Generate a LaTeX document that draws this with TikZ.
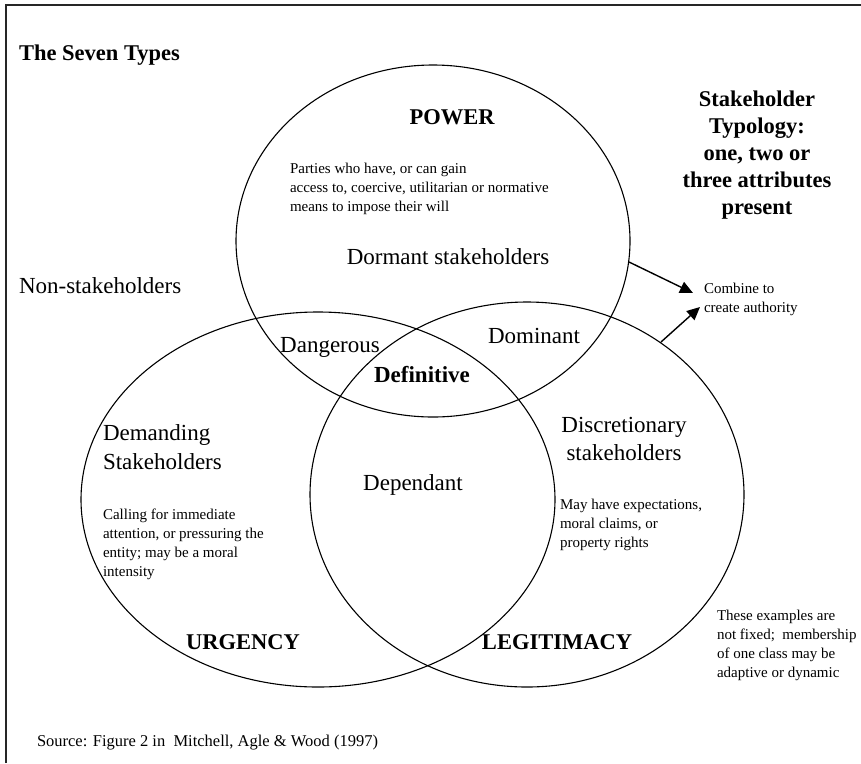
\documentclass[tikz,border=0pt]{standalone}
\usepackage{fontspec}
\setmainfont{Liberation Serif}
\usetikzlibrary{arrows.meta,shapes.geometric}
\begin{document}
\begin{tikzpicture}[x=1pt,y=-1pt,
  every node/.style={inner sep=0pt, outer sep=0pt},
  big/.style={font=\fontsize{23}{27}\selectfont},
  bigbold/.style={font=\fontsize{22.5}{27}\selectfont\bfseries},
  small/.style={font=\fontsize{15}{19}\selectfont},
  srcfont/.style={font=\fontsize{16.5}{20}\selectfont},
  venn/.style={draw, line width=1.1pt, ellipse, inner sep=0pt},
  arr/.style={line width=1.4pt, -{Triangle[length=13pt,width=12pt]}},
  framestyle/.style={line width=1.8pt, draw=black!85}
]
\useasboundingbox (0,0) rectangle (861,763);
\draw[framestyle] (6,763) -- (6,5) -- (861,5);

% circles
\node[venn, minimum width=394pt, minimum height=352pt] (power) at (433,241) {};
\node[venn, minimum width=474pt, minimum height=375pt] (urgency) at (318,499.5) {};
\node[venn, minimum width=434pt, minimum height=385pt] (legit) at (527,494.5) {};

% titles
\node[bigbold, anchor=base west] (title) at (19,60) {The Seven Types};
\node[bigbold, anchor=base] (powerlbl) at (452,124.5) {POWER};
\node[small, anchor=base west] (pw1) at (290,173) {Parties who have, or can gain};
\node[small, anchor=base west] (pw2) at (290,192) {access to, coercive, utilitarian or normative};
\node[small, anchor=base west] (pw3) at (290,211) {means to impose their will};
\node[big, anchor=base] (dormant) at (448,264.5) {Dormant stakeholders};

\node[bigbold, anchor=base] (ty1) at (757,106) {Stakeholder};
\node[bigbold, anchor=base] (ty2) at (757,133) {Typology:};
\node[bigbold, anchor=base] (ty3) at (757,160) {one, two or};
\node[bigbold, anchor=base] (ty4) at (757,187) {three attributes};
\node[bigbold, anchor=base] (ty5) at (757,214) {present};

\node[big, anchor=base west] (non) at (19,293.5) {Non-stakeholders};
\node[small, anchor=base west] (comb1) at (704,293) {Combine to};
\node[small, anchor=base west] (comb2) at (704,312) {create authority};

\node[big, anchor=base] (danger) at (330,352.5) {Dangerous};
\node[big, anchor=base] (domin) at (534,343.5) {Dominant};
\node[font=\fontsize{23}{27}\selectfont\bfseries, anchor=base] (defin) at (422,382.5) {Definitive};

\node[big, anchor=base west] (dem1) at (103,440.5) {Demanding};
\node[big, anchor=base west] (dem2) at (103,469.5) {Stakeholders};
\node[small, anchor=base west] (call1) at (103,519) {Calling for immediate};
\node[small, anchor=base west] (call2) at (103,538) {attention, or pressuring the};
\node[small, anchor=base west] (call3) at (103,557) {entity; may be a moral};
\node[small, anchor=base west] (call4) at (103,576) {intensity};

\node[big, anchor=base] (depend) at (413,490.5) {Dependant};

\node[big, anchor=base] (disc1) at (624,432.5) {Discretionary};
\node[big, anchor=base] (disc2) at (624,460.5) {stakeholders};
\node[small, anchor=base west] (may1) at (560,509) {May have expectations,};
\node[small, anchor=base west] (may2) at (560,528) {moral claims, or};
\node[small, anchor=base west] (may3) at (560,547) {property rights};

\node[bigbold, anchor=base] (urglbl) at (243,649.5) {URGENCY};
\node[bigbold, anchor=base] (leglbl) at (557,649.5) {LEGITIMACY};

\node[small, anchor=base west] (ex1) at (717,620) {These examples are};
\node[small, anchor=base west] (ex2) at (717,639) {not fixed;\ \ membership};
\node[small, anchor=base west] (ex3) at (717,658) {of one class may be};
\node[small, anchor=base west] (ex4) at (717,677) {adaptive or dynamic};

\node[srcfont, anchor=base west] (source) at (37,746.5) {Source: Figure 2 in\ \ Mitchell, Agle \& Wood (1997)};

% arrows
\coordinate (a1s) at (629,262);
\coordinate (a1e) at (693,293);
\coordinate (a2s) at (661,342);
\coordinate (a2e) at (700,307);
\draw[arr] (a1s) -- (a1e);
\draw[arr] (a2s) -- (a2e);
\end{tikzpicture}
\end{document}
